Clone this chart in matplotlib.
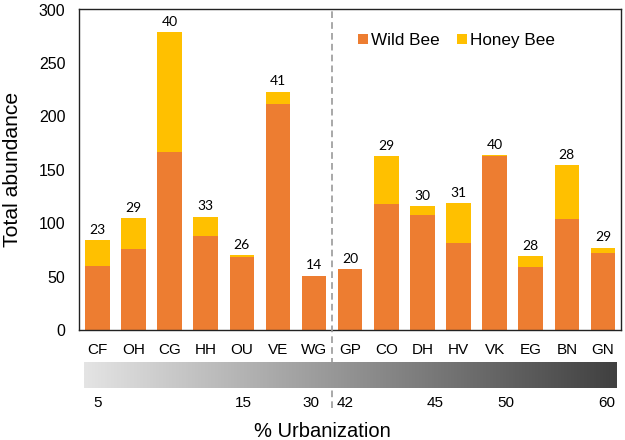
import numpy as np
import matplotlib
matplotlib.use("Agg")
import matplotlib.pyplot as plt
from matplotlib.colors import LinearSegmentedColormap

plt.rcParams['font.family'] = ['Liberation Sans', 'DejaVu Sans']

sites = ["CF", "OH", "CG", "HH", "OU", "VE", "WG", "GP", "CO", "DH", "HV", "VK", "EG", "BN", "GN"]
wild_bee = [60, 76, 167, 88, 68, 212, 51, 57, 118, 108, 81, 163, 59, 104, 72]
honey_bee = [24, 29, 112, 18, 2, 11, 0, 0, 45, 8, 38, 1, 10, 50, 5]
species_counts = [23, 29, 40, 33, 26, 41, 14, 20, 29, 30, 31, 40, 28, 28, 29]
urban_labels = ["5", "15", "30", "42", "45", "50", "60"]
urban_label_pos = [0.0, 4.04, 5.92, 6.87, 9.36, 11.3, 14.1]

ORANGE = "#ED7D31"
YELLOW = "#FFC000"

fig = plt.figure(figsize=(6.25, 4.4), dpi=100)
ax = fig.add_axes([79.3/625, 1-330/440, (621-79.3)/625, (330-9.5)/440])

x = np.arange(len(sites))
ax.bar(x, wild_bee, width=0.68, color=ORANGE, label="Wild Bee", zorder=2)
ax.bar(x, honey_bee, width=0.68, bottom=wild_bee, color=YELLOW, label="Honey Bee", zorder=2)

totals = np.array(wild_bee) + np.array(honey_bee)
for xi, t, n in zip(x, totals, species_counts):
    ax.text(xi, t + 4, str(n), ha="center", va="bottom", fontsize=10,
            family=["Lato", "DejaVu Sans"])

ax.set_xlim(-0.5, 14.5)
ax.set_ylim(0, 300)
ax.set_yticks(range(0, 301, 50))
ax.set_xticks(x)
ax.set_xticklabels(sites, fontsize=11)
ax.tick_params(axis="y", length=0, pad=10, labelsize=11.5)
ax.tick_params(axis="x", length=0, pad=9)
for s in ax.spines.values():
    s.set_linewidth(1.0)
    s.set_color("#222222")
ax.set_ylabel("Total abundance", fontsize=15.2)
ax.yaxis.set_label_coords(-0.106, 0.5)

ax.axvline(6.5, ymin=-0.243, ymax=1, color="#999999", linestyle=(0, (4, 2.5)),
           linewidth=1.2, clip_on=False, zorder=3)

leg = ax.legend(loc="upper left", bbox_to_anchor=(0.487, 0.975), ncol=2, frameon=False,
                fontsize=12.3, handlelength=0.55, handleheight=0.55, handletextpad=0.2,
                columnspacing=1.0)

# gradient bar
gax = fig.add_axes([79.3/625, 1-388/440, (621-79.3)/625, (388-362)/440])
cmap = LinearSegmentedColormap.from_list("urb", ["#e4e4e4", "#404040"])
grad = np.linspace(0, 1, 256).reshape(1, -1)
gax.imshow(grad, aspect="auto", cmap=cmap, extent=(-0.38, 14.37, 0, 1))
gax.set_xlim(-0.5, 14.5)
gax.set_ylim(0, 1)
gax.set_yticks([])
gax.set_xticks(urban_label_pos)
gax.set_xticklabels(urban_labels, fontsize=11)
gax.tick_params(axis="x", length=0, pad=6)
for s in gax.spines.values():
    s.set_visible(False)
gax.set_xlabel("% Urbanization", fontsize=14.5)
gax.xaxis.set_label_coords(0.448, -1.3)

fig.savefig("out.png", dpi=100)
